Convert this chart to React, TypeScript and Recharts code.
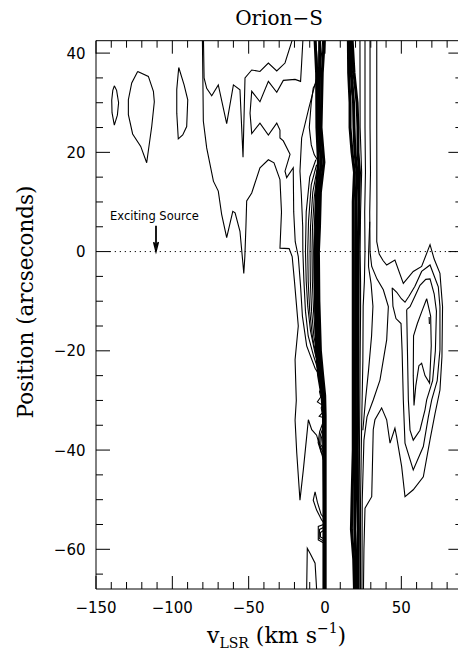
import React from "react";
import { ScatterChart, Scatter, XAxis, YAxis, ReferenceLine, ReferenceDot } from "recharts";

type Pt = [number, number]; // [v_LSR km/s, position arcsec]

const xTicks = [-150, -140, -130, -120, -110, -100, -90, -80, -70, -60, -50, -40, -30, -20, -10, 0, 10, 20, 30, 40, 50, 60, 70, 80, 90];
const yTicks = [-65, -60, -55, -50, -45, -40, -35, -30, -25, -20, -15, -10, -5, 0, 5, 10, 15, 20, 25, 30, 35, 40];

// isolated blobs at high negative velocity
const blobA: Pt[] = [[-138, 33.4], [-136.5, 32.5], [-135.2, 30], [-136, 27.5], [-138, 25.5], [-139.5, 28], [-139.7, 30.5], [-139, 32.5], [-138, 33.4]];
const blobB: Pt[] = [[-122.7, 36.3], [-115.7, 35.3], [-112.4, 32.3], [-111.8, 30.2], [-113.5, 25.2], [-116.8, 17.9], [-120.7, 21.2], [-126, 23.7], [-128.8, 27.6], [-128.8, 30.6], [-126.6, 34], [-122.7, 36.3]];
const blobC: Pt[] = [[-95.8, 37.1], [-92.3, 33.6], [-89.9, 30.6], [-90.6, 25.2], [-93.2, 23.5], [-96.1, 22.7], [-97.1, 27.9], [-97.1, 32.7], [-95.8, 37.1]];

// west side contours
const west1: Pt[] = [[-80.3, 42.5], [-80, 35], [-79.7, 26.3], [-77.5, 20.9], [-73.1, 14.2], [-69.9, 12.2], [-67.7, 7.5], [-64.4, 2.8], [-60.4, 8.1], [-58.9, 7.8], [-55.7, 4.1], [-53.5, -3.3], [-53.2, -4.4], [-52.5, -1], [-51.8, 5], [-51.3, 10.2], [-48, 11.8], [-42.6, 16.9], [-37.1, 18.5], [-33.4, 17.9], [-29.5, 14.5], [-28.5, 8], [-29.5, 0.7], [-23.5, 0.6], [-21.5, -1], [-20, -6], [-17.5, -15], [-19.6, -21.8], [-18.8, -30], [-19.6, -34], [-18.5, -40.6], [-16.4, -50.1], [-14.2, -44], [-12, -37.3], [-10.9, -33.9], [-8.7, -35.9], [-5.5, -37], [-3.3, -39.3], [-1.1, -42]];
const west2: Pt[] = [[-79.6, 42.5], [-79.2, 35], [-77.5, 32.9], [-74.2, 31.4], [-69.9, 33.6], [-64.4, 25.8], [-60, 33.6], [-55.7, 32.6], [-53.7, 19], [-52.4, 35], [-48, 36.6], [-42.6, 36.3], [-37.1, 38], [-31.6, 36.4], [-26.2, 38], [-21.6, 42.5]];
const west3: Pt[] = [[-14.5, 42.5], [-15.3, 38], [-16, 34.3], [-19.6, 34.7], [-27.3, 34.5], [-31.6, 32.1], [-37.1, 34.3], [-42.6, 30.2], [-48, 32.3], [-49.1, 27.9], [-48, 23.8], [-42.6, 25.9], [-37.1, 23.5], [-31.6, 25.9], [-29.5, 24.5], [-29.5, 22.9], [-27.3, 22.3], [-22.9, 19.6], [-26.2, 16.2], [-25.1, 14.9], [-20.8, 16.9], [-20.5, 8], [-19.5, 2], [-17.5, -1], [-16, -7], [-14.8, -13], [-12, -19], [-6.5, -23.5], [-2.5, -25.5]];
const loopA: Pt[] = [[-5, 34.5], [-7.7, 33], [-9, 30], [-10.3, 25], [-9, 21.5], [-7, 19.5], [-5, 18.5]];
const fan6: Pt[] = [[-5, 35.5], [-8, 32], [-10.5, 29], [-15.3, 22.9], [-16.4, 16.2], [-15.5, 11.5], [-14.6, 5], [-14.5, 0], [-13.8, -6], [-12.8, -12], [-11, -17], [-7.5, -21], [-3, -25.3]];
const fan5: Pt[] = [[-6, 18.5], [-10, 15], [-12.3, 8], [-12.8, 0], [-12.3, -6], [-11.3, -11], [-9.5, -16], [-6.5, -20.5], [-2.5, -25]];
const fan4: Pt[] = [[-5.5, 17.5], [-9, 13.5], [-10.8, 6], [-11.3, 0], [-11, -6], [-10, -12], [-8.3, -17], [-5.5, -21.5], [-2.5, -24.5]];
const fan3: Pt[] = [[-5.2, 16.5], [-8, 12], [-9.5, 5], [-9.8, 0], [-9.6, -6], [-8.8, -12], [-7.3, -17], [-5, -21], [-3, -23.5]];
const fan2: Pt[] = [[-5, 16], [-7, 11], [-8.2, 5], [-8.5, 0], [-8.3, -6], [-7.5, -12], [-6.3, -17], [-4.5, -20.5]];
const fan1: Pt[] = [[-4.8, 15], [-6.2, 10], [-7, 5], [-7.4, 0], [-7.2, -6], [-6.6, -12], [-5.5, -17], [-4.5, -19.5]];
const topFanA1: Pt[] = [[-6, 42.5], [-5.2, 39], [-4.8, 36]];
const topFanA2: Pt[] = [[-1.5, 42.5], [-2.5, 39], [-3, 36]];
const zigA1: Pt[] = [[-1.2, -27], [-3.6, -28.2], [-2.8, -29.3], [-5, -30.3], [-1.5, -31]];
const zigA2: Pt[] = [[-0.8, -30.5], [-2.5, -31.5], [-1.8, -32.5], [-3.8, -33.2], [-0.8, -33.5]];
const wedgeA1: Pt[] = [[-0.8, -34], [-3.5, -36.3], [-4.5, -38.5], [-2.5, -40.5], [-0.8, -41.3]];
const wedgeA2: Pt[] = [[-0.8, -35], [-3, -37], [-3.7, -38.8], [-2, -40], [-0.8, -40.6]];
const wedgeA3: Pt[] = [[-0.8, -36], [-2.4, -37.6], [-2.8, -38.9], [-0.8, -39.8]];
const dropA: Pt[] = [[-1, -54.5], [-2.2, -54.1], [-5.5, -52.1], [-7.7, -50.1], [-6.5, -48.4], [-5, -50.5], [-2.5, -53], [-1, -53.5]];
const dropA1: Pt[] = [[-1, -55], [-4.4, -55.4], [-4.4, -58.1], [-0.5, -58.8]];
const dropA2: Pt[] = [[-1, -55.6], [-3.6, -56], [-3.8, -57.8], [-1, -58.3]];
const dropA3: Pt[] = [[-1, -56.2], [-3, -56.6], [-3, -57.5], [-1, -57.8]];
const footA: Pt[] = [[-12, -68], [-11.6, -59.8], [-9.8, -60.8], [-6.5, -62.8], [-5.5, -68]];

// dense bands near 0 and 20 km/s
const bandALeft: Pt[] = [[-6.5, 42.5], [-5.5, 36], [-5.3, 25], [-4.3, 18], [-5.5, 12], [-6, 5], [-6.5, 0], [-6.2, -10], [-5.5, -20], [-4.2, -25], [-2, -29], [-1, -33], [-0.7, -50], [-0.7, -68]];
const bandAMid: Pt[] = [[-3.5, 42.5], [-3.6, 36], [-3.9, 25], [-2.5, 18], [-4.2, 12], [-4.8, 5], [-5.4, 0], [-5.1, -10], [-4.2, -20], [-2.8, -25], [-1.1, -29], [-0.4, -33], [-0.3, -50], [-0.3, -68]];
const bandARight: Pt[] = [[-0.5, 42.5], [-1.8, 36], [-2.6, 25], [-0.7, 18], [-3, 12], [-3.6, 5], [-4.3, 0], [-4, -10], [-3, -20], [-1.5, -25], [-0.2, -29], [0.1, -33], [0.1, -50], [0.1, -68]];
const bandBLeft: Pt[] = [[15.3, 42.5], [15.5, 36], [16.4, 30], [16.4, 25], [17.7, 20], [19.3, 16], [18.5, 10], [18.5, 0], [18.5, -20], [18.5, -40], [17.7, -50], [17.3, -56], [18.8, -62], [19.3, -68]];
const bandBMid: Pt[] = [[16.5, 42.5], [17.2, 36], [18.7, 30], [19, 25], [19.6, 20], [21, 16], [20.3, 10], [20.1, 0], [20, -20], [19.8, -40], [19.5, -50], [19.5, -56], [20.2, -62], [20.4, -68]];
const bandBRight: Pt[] = [[17.8, 42.5], [19, 36], [21, 30], [21.6, 25], [21.6, 20], [22.6, 16], [22.2, 10], [21.8, 0], [21.6, -20], [21.2, -40], [21.3, -50], [21.8, -56], [21.6, -62], [21.6, -68]];
const topZigB1: Pt[] = [[15.8, 42.5], [17, 40], [16.2, 37], [18.3, 34], [16.8, 31.5]];
const topZigB2: Pt[] = [[17, 42.5], [18.2, 39.5], [17.8, 36.5], [19.5, 34.5]];

// east side contours
const east1: Pt[] = [[22.9, 42.5], [23, 25], [24, 16], [23.3, 8], [23, 0], [23.3, -6], [23.3, -12], [23, -22], [22.7, -35], [22.4, -50], [22.2, -68]];
const east2: Pt[] = [[26.2, 42.5], [26.2, 25], [26.5, 16], [26, 8], [26.2, 0], [25.8, -6], [25, -11], [24.8, -22], [24, -35], [23.3, -50], [23.2, -68]];
const east3: Pt[] = [[29.3, 6], [28.6, 0], [28.5, -3], [30.2, -6.5], [31.4, -11], [30.5, -17], [28.5, -24], [26.5, -30], [24.8, -36]];
const bulge: Pt[] = [[29.5, 42.5], [29.5, 25], [29.8, 16], [29.3, 8], [29.5, 0], [30.6, -3], [34, -5.5], [38.2, -7.7], [41.5, -11.1], [40.4, -17.8], [36, -25.9], [31.6, -29.9], [27.5, -33.3], [25.5, -38], [24.4, -50], [24.2, -68]];
const outerEast: Pt[] = [[33.9, 42.5], [33.9, 25], [34, 10], [33.9, 2], [35.5, -0.5], [38, -1.8], [40.4, -2.7], [45.8, -1.7], [51.3, -6.4], [57.8, -4], [63.3, -3], [68.8, 1.4], [71.5, -1.5], [75.3, -4.4], [77, -11.1], [76.6, -21.2], [75.3, -27.9], [72.1, -32.6], [68.8, -37.9], [64.4, -45.4], [57.8, -48], [52.4, -49.4], [50.2, -43.3], [46.9, -37.3], [45.8, -35.6], [42.6, -38.6], [40.4, -33.9], [37.1, -31.5], [32.7, -33.9], [31.6, -35.9], [30.6, -49.4], [26.2, -51.7], [25.5, -60], [25.2, -68]];
const lobe2: Pt[] = [[44, -7.3], [47, -8.2], [50, -9.5], [52.4, -10.2], [55, -9], [58.9, -7], [63.3, -4], [68.8, -2.7], [74.2, -7.1], [75.3, -11.1], [75.3, -19.8], [73.5, -26], [69.9, -29.9], [67.7, -33.3], [64.4, -39.3], [57.8, -44], [52.4, -38.6], [51.3, -29.9], [50.5, -20], [49.8, -14.5], [46.5, -13.5], [44.5, -11], [44, -7.3]];
const lobe3: Pt[] = [[53.5, -11.7], [55.7, -11.1], [58.9, -9], [62.2, -6.8], [66, -5.6], [68.8, -5.5], [71.5, -8.5], [73, -12], [72.3, -20], [70.5, -26], [66.6, -29.9], [65.5, -31.9], [62.2, -36], [57.8, -38], [55.7, -36], [54.6, -29.9], [54, -20], [53.5, -11.7]];
const lobe4: Pt[] = [[66.6, -9.5], [69.2, -13], [69.6, -19], [68.5, -26.5], [65.5, -25], [63.3, -22.5], [61.5, -23], [59.5, -27], [58.3, -31], [57.8, -25], [58, -17], [60.5, -14.5], [63.5, -12], [66.6, -9.5]];
const lobePeak: Pt[] = [[68.2, -13.2], [68.4, -14.6]];

// exciting source marker
const arrowShaft: Pt[] = [[-110.7, 5.2], [-110.7, 0.6]];
const arrowHead: Pt[] = [[-112.3, 1.9], [-110.7, 0], [-109.1, 1.9], [-110.7, 1.2], [-112.3, 1.9]];

const thinLines: Pt[][] = [
  blobA, blobB, blobC, west1, west2, west3, loopA, fan6, fan5, fan4, fan3, fan2, fan1,
  topFanA1, topFanA2, zigA1, zigA2, wedgeA1, wedgeA2, wedgeA3, dropA, dropA1, dropA2, dropA3, footA,
  topZigB1, topZigB2, east1, east2, east3, bulge, outerEast, lobe2, lobe3, lobe4, lobePeak,
];
const thickLines: Pt[][] = [bandALeft, bandAMid, bandARight, bandBLeft, bandBMid, bandBRight];

const toPts = (line: Pt[]) => line.map(([v, p]) => ({ v, p }));
const fmt = (n: number) => (n < 0 ? `\u2212${Math.abs(n)}` : `${n}`);
const numFont = "'DejaVu Sans', sans-serif";
const labelFont = "'DejaVu Serif', serif";
const noMark = () => <g />;

const BottomTick = ({ x, y, payload }: any) => {
  const major = payload.value % 50 === 0;
  return (
    <g>
      <line x1={x} x2={x} y1={y} y2={y - (major ? 13 : 7)} stroke="#000" />
      {major && (
        <text x={x} y={y + 24} textAnchor="middle" fontFamily={numFont} fontSize={15} fill="#000">
          {fmt(payload.value)}
        </text>
      )}
    </g>
  );
};

const TopTick = ({ x, y, payload }: any) => {
  const major = payload.value % 50 === 0;
  return <line x1={x} x2={x} y1={y} y2={y + (major ? 13 : 7)} stroke="#000" />;
};

const LeftTick = ({ x, y, payload }: any) => {
  const major = payload.value % 20 === 0;
  return (
    <g>
      <line x1={x} x2={x + (major ? 14 : 7)} y1={y} y2={y} stroke="#000" />
      {major && (
        <text x={x - 10.5} y={y + 5.5} textAnchor="end" fontFamily={numFont} fontSize={15} fill="#000">
          {fmt(payload.value)}
        </text>
      )}
    </g>
  );
};

const RightTick = ({ x, y, payload }: any) => {
  const major = payload.value % 20 === 0;
  return <line x1={x} x2={x - (major ? 14 : 7)} y1={y} y2={y} stroke="#000" />;
};

const SourceLabel = (props: any) => (
  <text x={props.cx} y={props.cy} fontFamily={numFont} fontSize={11.5} fill="#000">
    Exciting Source
  </text>
);

export default function App() {
  return (
    <div style={{ position: "absolute", left: 0, top: 0, width: 458, height: 651, overflow: "hidden", background: "#fff" }}>
      <ScatterChart width={470} height={651} margin={{ top: 39.7, right: 6.6, bottom: 61, left: 95 }}>
        <XAxis
          type="number"
          dataKey="v"
          domain={[-150, 90]}
          ticks={xTicks}
          interval={0}
          allowDataOverflow
          height={1}
          tickSize={0}
          tickMargin={0}
          tickLine={false}
          axisLine={{ stroke: "#000" }}
          tick={<BottomTick />}
        />
        <XAxis
          xAxisId="top"
          orientation="top"
          type="number"
          dataKey="v"
          domain={[-150, 90]}
          ticks={xTicks}
          interval={0}
          allowDataOverflow
          height={1}
          tickSize={0}
          tickMargin={0}
          tickLine={false}
          axisLine={{ stroke: "#000" }}
          tick={<TopTick />}
        />
        <YAxis
          type="number"
          dataKey="p"
          domain={[-68, 42.5]}
          ticks={yTicks}
          interval={0}
          allowDataOverflow
          width={1}
          tickSize={0}
          tickMargin={0}
          tickLine={false}
          axisLine={{ stroke: "#000" }}
          tick={<LeftTick />}
        />
        <YAxis
          yAxisId="right"
          orientation="right"
          type="number"
          dataKey="p"
          domain={[-68, 42.5]}
          ticks={yTicks}
          interval={0}
          allowDataOverflow
          width={1}
          tickSize={0}
          tickMargin={0}
          tickLine={false}
          axisLine={{ stroke: "#000" }}
          tick={<RightTick />}
        />
        <ReferenceLine
          segment={[{ x: -141, y: 0 }, { x: 90, y: 0 }]}
          stroke="#000"
          strokeWidth={1}
          strokeDasharray="1.2 3.8"
        />
        {thickLines.map((line, i) => (
          <Scatter
            key={`b${i}`}
            data={toPts(line)}
            fill="#000"
            line={{ stroke: "#000", strokeWidth: 3 }}
            shape={noMark}
            isAnimationActive={false}
          />
        ))}
        {thinLines.map((line, i) => (
          <Scatter
            key={`c${i}`}
            data={toPts(line)}
            fill="#000"
            line={{ stroke: "#000", strokeWidth: 1.1 }}
            shape={noMark}
            isAnimationActive={false}
          />
        ))}
        <Scatter data={toPts(arrowShaft)} fill="#000" line={{ stroke: "#000", strokeWidth: 1.8 }} shape={noMark} isAnimationActive={false} />
        <Scatter data={toPts(arrowHead)} fill="#000" line={{ stroke: "#000", strokeWidth: 1.4 }} shape={noMark} isAnimationActive={false} />
        <ReferenceDot x={-140.8} y={6.4} r={0} shape={SourceLabel} />
      </ScatterChart>
      <svg width={458} height={651} style={{ position: "absolute", left: 0, top: 0, pointerEvents: "none" }}>
        <text x={279} y={25} textAnchor="middle" fontFamily={labelFont} fontSize={20} fill="#000">
          Orion−S
        </text>
        <text x={33} y={302} transform="rotate(-90, 33, 302)" textAnchor="middle" fontFamily={labelFont} fontSize={21.5} fill="#000">
          Position (arcseconds)
        </text>
        <text x={207} y={643} fontFamily={labelFont} fontSize={22} fill="#000">
          v
          <tspan fontSize={14} dy={5}>LSR</tspan>
          <tspan dy={-5}> (km s</tspan>
          <tspan fontSize={14} dy={-10}>−1</tspan>
          <tspan dy={10}>)</tspan>
        </text>
      </svg>
    </div>
  );
}
